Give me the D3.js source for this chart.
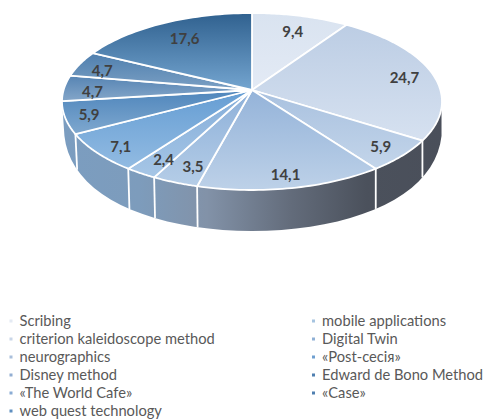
<!DOCTYPE html>
<html>
<head>
<meta charset="utf-8">
<script src="https://cdn.jsdelivr.net/npm/d3@7/dist/d3.min.js"></script>
<style>
html,body{margin:0;padding:0;background:#fff}
svg{display:block}
text{font-family:Lato,"Open Sans",sans-serif}
</style>
</head>
<body>
<svg id="chart" width="483" height="420"></svg>
<script>
// Share of each teaching method, in per cent, clockwise from twelve o'clock
const categories = ["Scribing","criterion kaleidoscope method","neurographics","Disney method","«The World Cafe»","web quest technology","mobile applications","Digital Twin","«Post-сесія»","Edward de Bono Method","«Case»"];
const values = [9.4,24.7,5.9,14.1,3.5,2.4,7.1,5.9,4.7,4.7,17.6];
const valueLabels = ["9,4","24,7","5,9","14,1","3,5","2,4","7,1","5,9","4,7","4,7","17,6"];

// Top and bottom stops of each wedge's vertical gradient
const topColors = ["#d9e3f0","#bccde4","#a9c1df","#94b3d9","#8db0d9","#84add9","#659dd3","#4f86bc","#5684b3","#4f7fae","#30618f"];
const bottomColors = ["#e3eaf5","#d6e1f0","#c3d5ea","#bdd1e8","#b5cde7","#a6c6e6","#92bbe2","#7fa8cf","#84a6c9","#7ba0c4","#74a5d0"];
const legendColors = ["#e4eaf3","#c9d6e8","#a9bfdb","#92aed2","#8aacd4","#5f8fc0","#a6c4e0","#8fb0d5","#6f9fd0","#4f7fb0","#4f7fb0"];

const svg = d3.select("#chart");
const defs = svg.append("defs");

// Perspective projection of the unit disc onto the tilted pie
const apex = [252, 90], radiusX = 188.4, radiusY = 87, tilt = 0.13;
const project = (a, r = 1) => {
  const u = r * Math.sin(a), v = -r * Math.cos(a), s = 1 / (1 - tilt * v);
  return [apex[0] + radiusX * u * s, apex[1] + radiusY * v * s];
};
// Matching point on the lower rim: the wall reads shorter towards the flanks
const lower = a => {
  const [x, y] = project(a), v = -Math.cos(a), u = Math.sin(a);
  return [x - 2 * Math.min(u, 0), y + 41 - 20 * (1 - v) * (1 - v)];
};

const pie = d3.pie().sort(null).value(d => d)(values);
const line = d3.line();
const rimAngles = (a0, a1) => d3.range(0, 41).map(i => a0 + (a1 - a0) * i / 40);

// Side wall, shaded from steel blue on the left to slate on the right
const sideGrad = defs.append("linearGradient").attr("id", "side")
  .attr("gradientUnits", "userSpaceOnUse").attr("x1", 63).attr("x2", 442).attr("y1", 0).attr("y2", 0);
[[0, "#7b9dc0"], [0.2, "#7d9cbc"], [0.38, "#8292a8"], [0.6, "#636c7b"], [0.8, "#4b515c"], [1, "#4a4f5a"]]
  .forEach(([o, c]) => sideGrad.append("stop").attr("offset", o).attr("stop-color", c));

const wallStart = Math.acos(-0.2), wallEnd = 2 * Math.PI - wallStart;
const wallAngles = rimAngles(wallStart, wallEnd);
svg.append("path")
  .attr("d", line(wallAngles.map(a => project(a)).concat(wallAngles.slice().reverse().map(lower))) + "Z")
  .attr("fill", "url(#side)");

// White seams on the wall at each wedge boundary
pie.map(d => d.startAngle).filter(a => a > wallStart && a < wallEnd).forEach(a => {
  svg.append("path").attr("d", line([project(a), lower(a)]))
    .attr("stroke", "#fff").attr("stroke-width", 1.8).attr("fill", "none");
});

// Top face wedges
pie.forEach((d, i) => {
  const id = "wedge" + i;
  const g = defs.append("linearGradient").attr("id", id)
    .attr("gradientUnits", "userSpaceOnUse").attr("x1", 0).attr("x2", 0);
  const pts = rimAngles(d.startAngle, d.endAngle).map(a => project(a));
  const ys = pts.map(p => p[1]).concat(apex[1]);
  g.attr("y1", d3.min(ys)).attr("y2", d3.max(ys));
  g.append("stop").attr("offset", 0).attr("stop-color", topColors[i]);
  g.append("stop").attr("offset", 1).attr("stop-color", bottomColors[i]);
  svg.append("path")
    .attr("d", line([apex].concat(pts)) + "Z")
    .attr("fill", "url(#" + id + ")")
    .attr("stroke", "#fff").attr("stroke-width", 1.8).attr("stroke-linejoin", "round");
});

// Value labels sit inside each wedge, nudged clear of the seams
const labelRadius = [0.82, 0.76, 0.78, 0.86, 0.86, 0.72, 0.76, 0.84, 0.86, 0.86, 0.76];
const labelNudge = [[0,4],[15,1],[14,7],[0,2],[6,-1],[-11,12],[-16,10],[-7,2],[2,3],[-1,3],[2,1]];
pie.forEach((d, i) => {
  const [x, y] = project((d.startAngle + d.endAngle) / 2, labelRadius[i]);
  svg.append("text").attr("x", x + labelNudge[i][0]).attr("y", y + labelNudge[i][1]).attr("dy", "0.35em")
    .attr("text-anchor", "middle").attr("font-size", 15).attr("font-weight", 700)
    .attr("fill", "#404040").text(valueLabels[i]);
});

// Two-column legend
const rowY = d3.scalePoint().domain(d3.range(6)).range([321, 411]);
const colX = [19.5, 322];
categories.forEach((c, i) => {
  const col = i < 6 ? 0 : 1, row = i < 6 ? i : i - 6;
  svg.append("rect").attr("x", colX[col] - 10).attr("y", rowY(row) - 1.5).attr("width", 3).attr("height", 3)
    .attr("fill", legendColors[i]);
  svg.append("text").attr("x", colX[col]).attr("y", rowY(row)).attr("dy", "0.35em")
    .attr("font-size", 14.7).attr("fill", "#595959").text(c);
});
</script>
</body>
</html>
